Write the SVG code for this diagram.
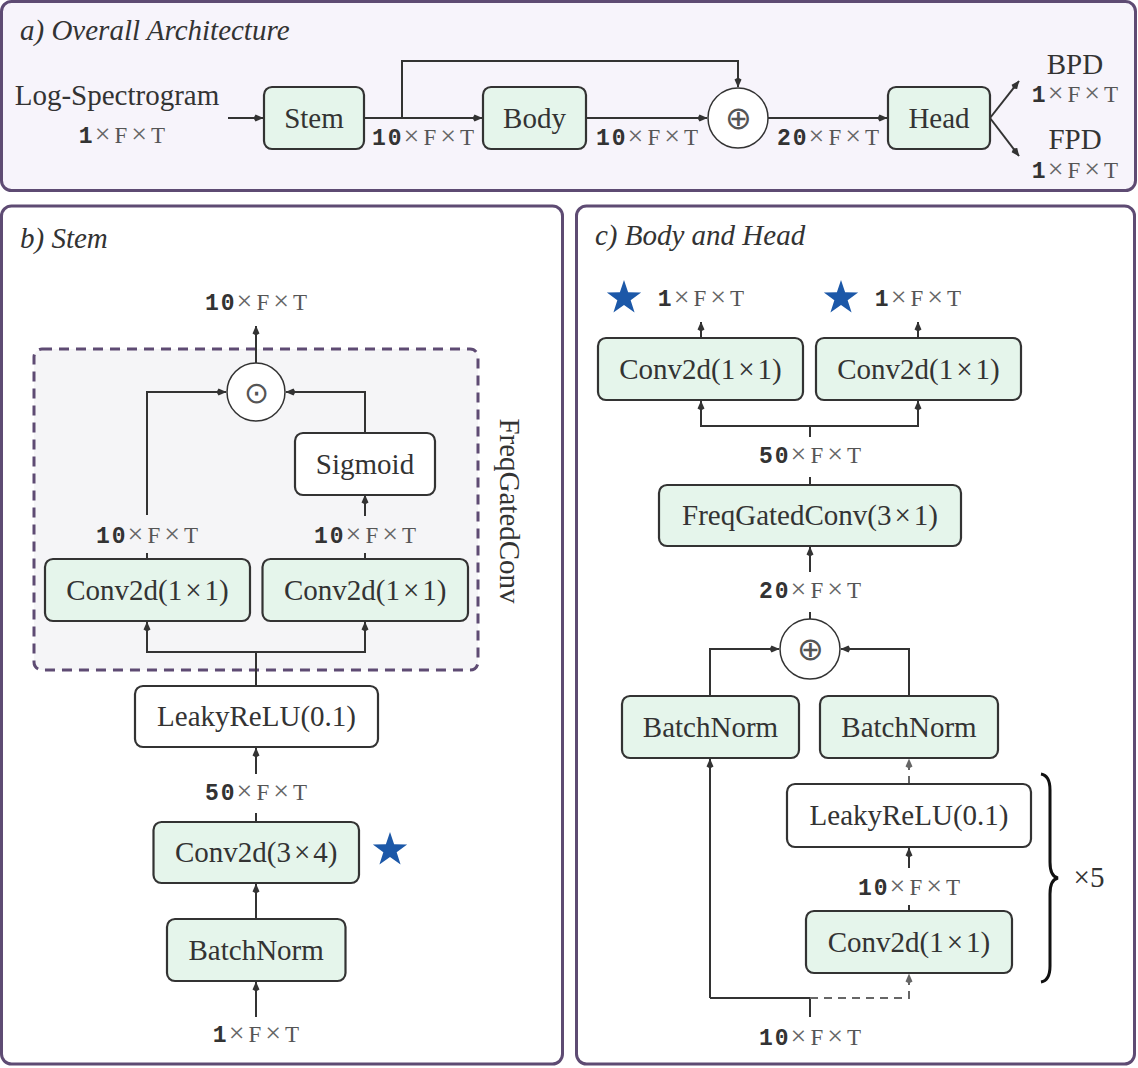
<svg xmlns="http://www.w3.org/2000/svg" width="1138" height="1068" viewBox="0 0 1138 1068">
<style>
.panel{stroke:#5e4b73;stroke-width:3}
.box{fill:#e5f5eb;stroke:#333;stroke-width:2.2}
.wbox{fill:#fff;stroke:#333;stroke-width:2.2}
.circ{fill:#fff;stroke:#333;stroke-width:1.5}
.lbl{font-family:"Liberation Serif",serif;font-size:29px;fill:#333;text-anchor:middle}
.title{font-family:"Liberation Serif",serif;font-style:italic;font-size:29px;fill:#333}
.dim{font-family:"Liberation Serif",serif;font-size:23px;fill:#555;letter-spacing:4px;text-anchor:middle}
.n{font-family:"Liberation Mono",monospace;font-weight:bold;fill:#333;letter-spacing:2px}
.x{font-size:28px;fill:#666}
.op{font-family:"DejaVu Sans",sans-serif;font-weight:200;font-size:32px;fill:#555;text-anchor:middle;dominant-baseline:central}
.ln{fill:none;stroke:#333;stroke-width:2}
.dl{fill:none;stroke:#666;stroke-width:2;stroke-dasharray:8 6}
.star{fill:#1c58a8}
</style>
<defs>
<marker id="ah" viewBox="0 0 10 8" refX="9.5" refY="4" markerWidth="10" markerHeight="8" orient="auto" markerUnits="userSpaceOnUse"><path d="M10,4 L2,0.5 L0,4 L2,7.5 z" fill="#333"/></marker>
<marker id="ahg" viewBox="0 0 10 8" refX="9.5" refY="4" markerWidth="10" markerHeight="8" orient="auto" markerUnits="userSpaceOnUse"><path d="M10,4 L2,0.5 L0,4 L2,7.5 z" fill="#666"/></marker>
<polygon id="st" points="0,-18 4.11,-5.66 17.12,-5.56 6.66,2.16 10.58,14.56 0,7 -10.58,14.56 -6.66,2.16 -17.12,-5.56 -4.11,-5.66"/>
</defs>

<!-- Panels -->
<rect class="panel" x="1.5" y="1.5" width="1134" height="189" rx="10" fill="#f7f4fb"/>
<rect class="panel" x="1.5" y="206" width="561" height="858" rx="10" fill="#fff"/>
<rect class="panel" x="576.5" y="206" width="558" height="858" rx="10" fill="#fff"/>
<rect x="34" y="349" width="444" height="321" rx="8" fill="#f5f5f7" stroke="#5e4b73" stroke-width="3" stroke-dasharray="10 7"/>

<text class="title" x="20" y="40">a) Overall Architecture</text>
<text class="title" x="20" y="248">b) Stem</text>
<text class="title" x="595" y="245">c) Body and Head</text>

<!-- Connectors -->
<g id="connectors">
<path class="ln" d="M228,118 H263" marker-end="url(#ah)"/>
<path class="ln" d="M364,118 H482" marker-end="url(#ah)"/>
<path class="ln" d="M402,118 V61 H738 V87" marker-end="url(#ah)"/>
<path class="ln" d="M586,118 H707" marker-end="url(#ah)"/>
<path class="ln" d="M768,118 H887" marker-end="url(#ah)"/>
<path class="ln" d="M990,118 L1019,81" marker-end="url(#ah)"/>
<path class="ln" d="M990,118 L1019,156" marker-end="url(#ah)"/>

<path class="ln" d="M256,363 V326" marker-end="url(#ah)"/>
<path class="ln" d="M147,515 V392 H226" marker-end="url(#ah)"/>
<path class="ln" d="M365,433 V392 H286" marker-end="url(#ah)"/>
<path class="ln" d="M365,516 V495" marker-end="url(#ah)"/>
<path class="ln" d="M147,553 V559 M365,553 V559"/>
<path class="ln" d="M256,686 V652 H147 V622" marker-end="url(#ah)"/>
<path class="ln" d="M256,652 H365 V622" marker-end="url(#ah)"/>
<path class="ln" d="M256,774 V748" marker-end="url(#ah)"/>
<path class="ln" d="M256,813 V822"/>
<path class="ln" d="M256,919 V884" marker-end="url(#ah)"/>
<path class="ln" d="M256,1017 V982" marker-end="url(#ah)"/>

<path class="ln" d="M701,338 V322" marker-end="url(#ah)"/>
<path class="ln" d="M918,338 V322" marker-end="url(#ah)"/>
<path class="ln" d="M810,437 V426 H701 V401" marker-end="url(#ah)"/>
<path class="ln" d="M810,426 H918 V401" marker-end="url(#ah)"/>
<path class="ln" d="M810,477 V485"/>
<path class="ln" d="M810,572 V547" marker-end="url(#ah)"/>
<path class="ln" d="M810,612 V619"/>
<path class="ln" d="M710,696 V649 H779" marker-end="url(#ah)"/>
<path class="ln" d="M909,696 V649 H841" marker-end="url(#ah)"/>
<path class="ln" d="M710,998 V759" marker-end="url(#ah)"/>
<path class="ln" d="M810,1017 V998 H710"/>
<path class="dl" d="M810,998 H909 V974" marker-end="url(#ahg)"/>
<path class="dl" d="M909,784 V759" marker-end="url(#ahg)"/>
<path class="ln" d="M909,868 V848" marker-end="url(#ah)"/>
<path class="ln" d="M909,905 V911"/>
</g>

<!-- Panel a nodes -->
<g id="input"><text class="lbl" x="117" y="105">Log-Spectrogram</text><text class="dim" x="124" y="143"><tspan class="n">1</tspan><tspan class="x">×</tspan>F<tspan class="x">×</tspan>T</text></g>
<g id="stem"><rect class="box" x="264" y="87" width="100" height="62" rx="8"/><text class="lbl" x="314" y="127.5">Stem</text></g>
<g id="body"><rect class="box" x="483" y="87" width="103" height="62" rx="8"/><text class="lbl" x="534.5" y="127.5">Body</text></g>
<g id="add_a"><circle class="circ" cx="738" cy="118" r="30"/><text class="op" x="738" y="118">⊕</text></g>
<g id="head"><rect class="box" x="888" y="87" width="102" height="62" rx="8"/><text class="lbl" x="939" y="127.5">Head</text></g>
<g id="bpd"><text class="lbl" x="1075" y="74">BPD</text><text class="dim" x="1077" y="102"><tspan class="n">1</tspan><tspan class="x">×</tspan>F<tspan class="x">×</tspan>T</text></g>
<g id="fpd"><text class="lbl" x="1075" y="149">FPD</text><text class="dim" x="1077" y="178"><tspan class="n">1</tspan><tspan class="x">×</tspan>F<tspan class="x">×</tspan>T</text></g>
<g id="dims_a">
<text class="dim" x="425" y="145"><tspan class="n">10</tspan><tspan class="x">×</tspan>F<tspan class="x">×</tspan>T</text>
<text class="dim" x="649" y="145"><tspan class="n">10</tspan><tspan class="x">×</tspan>F<tspan class="x">×</tspan>T</text>
<text class="dim" x="830" y="145"><tspan class="n">20</tspan><tspan class="x">×</tspan>F<tspan class="x">×</tspan>T</text>
</g>

<!-- Panel b nodes -->
<g id="b_out"><text class="dim" x="258" y="310"><tspan class="n">10</tspan><tspan class="x">×</tspan>F<tspan class="x">×</tspan>T</text></g>
<g id="b_mul"><circle class="circ" cx="256" cy="392" r="29"/><text class="op" x="256" y="392" style="font-size:30px">⊙</text></g>
<g id="b_sigmoid"><rect class="wbox" x="295" y="433" width="140" height="62" rx="8"/><text class="lbl" x="365" y="473.5">Sigmoid</text></g>
<g id="b_dims"><text class="dim" x="149" y="543"><tspan class="n">10</tspan><tspan class="x">×</tspan>F<tspan class="x">×</tspan>T</text><text class="dim" x="367" y="543"><tspan class="n">10</tspan><tspan class="x">×</tspan>F<tspan class="x">×</tspan>T</text></g>
<g id="b_conv_l"><rect class="box" x="45" y="559" width="205" height="62" rx="8"/><text class="lbl" x="147.5" y="599.5">Conv2d(1<tspan dx="3">×</tspan><tspan dx="3">1)</tspan></text></g>
<g id="b_conv_r"><rect class="box" x="262.5" y="559" width="205.5" height="62" rx="8"/><text class="lbl" x="365.2" y="599.5">Conv2d(1<tspan dx="3">×</tspan><tspan dx="3">1)</tspan></text></g>
<g id="b_freq_label"><text class="lbl" transform="translate(500,511) rotate(90)" x="0" y="0">FreqGatedConv</text></g>
<g id="b_leaky"><rect class="wbox" x="135" y="686" width="243" height="61" rx="8"/><text class="lbl" x="256.5" y="726">LeakyReLU(0.1)</text></g>
<g id="b_dim50"><text class="dim" x="258" y="800"><tspan class="n">50</tspan><tspan class="x">×</tspan>F<tspan class="x">×</tspan>T</text></g>
<g id="b_conv34"><rect class="box" x="153.5" y="822" width="205.5" height="61" rx="8"/><text class="lbl" x="256.2" y="862">Conv2d(3<tspan dx="3">×</tspan><tspan dx="3">4)</tspan></text></g>
<g id="b_star"><use href="#st" class="star" x="390" y="850"/></g>
<g id="b_bn"><rect class="box" x="167" y="919" width="178.5" height="62" rx="8"/><text class="lbl" x="256.2" y="959.5">BatchNorm</text></g>
<g id="b_in"><text class="dim" x="258" y="1042"><tspan class="n">1</tspan><tspan class="x">×</tspan>F<tspan class="x">×</tspan>T</text></g>

<!-- Panel c nodes -->
<g id="c_star1"><use href="#st" class="star" x="624" y="298"/><text class="dim" x="703" y="306"><tspan class="n">1</tspan><tspan class="x">×</tspan>F<tspan class="x">×</tspan>T</text></g>
<g id="c_star2"><use href="#st" class="star" x="841" y="298"/><text class="dim" x="920" y="306"><tspan class="n">1</tspan><tspan class="x">×</tspan>F<tspan class="x">×</tspan>T</text></g>
<g id="c_conv1"><rect class="box" x="598" y="338" width="205" height="62" rx="8"/><text class="lbl" x="700.5" y="378.5">Conv2d(1<tspan dx="3">×</tspan><tspan dx="3">1)</tspan></text></g>
<g id="c_conv2"><rect class="box" x="816" y="338" width="205" height="62" rx="8"/><text class="lbl" x="918.5" y="378.5">Conv2d(1<tspan dx="3">×</tspan><tspan dx="3">1)</tspan></text></g>
<g id="c_dim50"><text class="dim" x="812" y="463"><tspan class="n">50</tspan><tspan class="x">×</tspan>F<tspan class="x">×</tspan>T</text></g>
<g id="c_fgc"><rect class="box" x="659" y="485" width="302" height="61" rx="8"/><text class="lbl" x="810" y="525">FreqGatedConv(3<tspan dx="3">×</tspan><tspan dx="3">1)</tspan></text></g>
<g id="c_dim20"><text class="dim" x="812" y="598"><tspan class="n">20</tspan><tspan class="x">×</tspan>F<tspan class="x">×</tspan>T</text></g>
<g id="c_add"><circle class="circ" cx="810" cy="649" r="30"/><text class="op" x="810" y="649">⊕</text></g>
<g id="c_bn1"><rect class="box" x="622" y="696" width="177" height="62" rx="8"/><text class="lbl" x="710.5" y="736.5">BatchNorm</text></g>
<g id="c_bn2"><rect class="box" x="820" y="696" width="178" height="62" rx="8"/><text class="lbl" x="909" y="736.5">BatchNorm</text></g>
<g id="c_leaky"><rect class="wbox" x="787" y="784" width="244" height="63" rx="8"/><text class="lbl" x="909" y="825">LeakyReLU(0.1)</text></g>
<g id="c_dim10"><text class="dim" x="911" y="895"><tspan class="n">10</tspan><tspan class="x">×</tspan>F<tspan class="x">×</tspan>T</text></g>
<g id="c_conv"><rect class="box" x="806" y="911" width="206" height="62" rx="8"/><text class="lbl" x="909" y="951.5">Conv2d(1<tspan dx="3">×</tspan><tspan dx="3">1)</tspan></text></g>
<g id="c_in"><text class="dim" x="812" y="1045"><tspan class="n">10</tspan><tspan class="x">×</tspan>F<tspan class="x">×</tspan>T</text></g>
<g id="c_repeat">
<path d="M1041,774 C1047,775 1050,780 1050,790 L1050,862 C1050,872 1053,877 1058,878 C1053,879 1050,884 1050,894 L1050,966 C1050,976 1047,981 1041,982" fill="none" stroke="#111" stroke-width="3"/>
<text class="lbl" x="1089" y="887">×5</text>
</g>
</svg>
